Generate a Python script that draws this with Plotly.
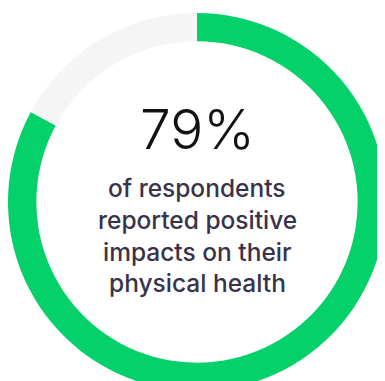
import plotly.graph_objects as go

# Data
segment_labels = ["Positive impact", "Other"]
segment_values = [82.9, 17.1]
segment_colors = ["#04D16A", "#F5F5F5"]
headline = "79%"
subtitle_lines = ["of respondents", "reported positive", "impacts on their", "physical health"]

OFF = 8  # page body margin
W, H = 385, 404
cx, cy, r = 197 - OFF, 202 - OFF, 189  # pixel center / radius in figure coords

fig = go.Figure(go.Pie(
    labels=segment_labels,
    values=segment_values,
    marker=dict(colors=segment_colors, line=dict(width=0)),
    hole=0.85,
    sort=False,
    direction="clockwise",
    rotation=0,
    textinfo="none",
    hoverinfo="none",
    showlegend=False,
    domain=dict(x=[(cx - r) / W, (cx + r) / W],
                y=[(H - (cy + r)) / H, (H - (cy - r)) / H]),
))

def py(ypix):
    return (H - (ypix - OFF)) / H

annotations = [dict(
    text=headline, x=cx / W, y=py(148 + 15.5), xref="paper", yref="paper",
    xanchor="center", yanchor="bottom", showarrow=False,
    font=dict(family="Inter", size=55, color="#111111", weight=300),
)]
baselines = [196, 228, 260, 291]
for line, b in zip(subtitle_lines, baselines):
    annotations.append(dict(
        text=line, x=cx / W, y=py(b + 9), xref="paper", yref="paper",
        xanchor="center", yanchor="bottom", showarrow=False,
        font=dict(family="Inter", size=24.5, color="#38334A", weight=500),
    ))

fig.update_layout(
    width=W, height=H,
    margin=dict(l=0, r=0, t=0, b=0),
    paper_bgcolor="white", plot_bgcolor="white",
    annotations=annotations,
)
fig.write_html("out.html")
